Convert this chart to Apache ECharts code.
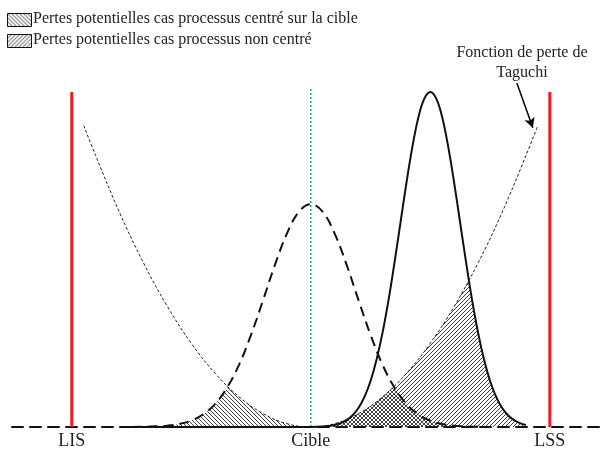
<!DOCTYPE html>
<html>
<head>
<meta charset="utf-8">
<script src="https://cdn.jsdelivr.net/npm/echarts@6/dist/echarts.min.js"></script>
<style>html,body{margin:0;padding:0;background:#fff}#c{width:606px;height:450px}</style>
</head>
<body>
<div id="c"></div>
<script>
// ---- data (x: Cible = 0, LIS = -1, LSS = +1 ; y: loss / density height) ----
const tickPositions = [-1, 0, 1];
const tickLabels = ['LIS', 'Cible', 'LSS'];
const legendLabels = ['Pertes potentielles cas processus centré sur la cible',
                      'Pertes potentielles cas processus non centré'];
const annotation = ['Fonction de perte de', 'Taguchi'];

// Taguchi loss function (parabola)
const taguchiX = [-0.95,-0.9,-0.8,-0.7,-0.6,-0.5,-0.4,-0.3,-0.2,-0.1,0,0.1,0.2,0.3,0.4,0.5,0.6,0.7,0.8,0.9,0.95];
const taguchiY = [0.90,0.81,0.64,0.49,0.36,0.25,0.16,0.09,0.04,0.01,0,0.01,0.04,0.09,0.16,0.25,0.36,0.49,0.64,0.81,0.90];

// centred process distribution (dashed)
const centredX = [-0.75,-0.7,-0.65,-0.6,-0.55,-0.5,-0.45,-0.4,-0.35,-0.3,-0.25,-0.2,-0.15,-0.1,-0.05,0,0.05,0.1,0.15,0.2,0.25,0.3,0.35,0.4,0.45,0.5,0.55,0.6,0.65,0.7,0.75];
const centredY = [0,0.0006,0.002,0.004,0.009,0.019,0.038,0.069,0.118,0.186,0.275,0.378,0.484,0.577,0.642,0.665,0.642,0.577,0.484,0.378,0.275,0.186,0.118,0.069,0.038,0.019,0.009,0.004,0.002,0.0006,0];

// non-centred process distribution (solid)
const shiftedX = [-0.75,0,0.05,0.1,0.125,0.15,0.175,0.2,0.225,0.25,0.275,0.3,0.325,0.35,0.375,0.4,0.425,0.45,0.475,0.5,0.525,0.55,0.575,0.6,0.625,0.65,0.675,0.7,0.725,0.75,0.775,0.8,0.825,0.85,0.875,0.9];
const shiftedY = [0,0.0003,0.0016,0.0062,0.0115,0.0205,0.035,0.0574,0.0907,0.1375,0.2005,0.281,0.378,0.49,0.609,0.728,0.836,0.924,0.98,1.0,0.98,0.924,0.836,0.728,0.609,0.49,0.378,0.281,0.2005,0.1375,0.0907,0.0574,0.035,0.0205,0.0115,0.0062];

// hatched loss zones (min of loss and distribution)
const lossCentredMidX = [-0.348,-0.3,-0.25,-0.2,-0.15,-0.1,-0.05,0,0.05,0.1,0.15,0.2,0.25,0.3,0.348];
const lossCentredMidY = [0.121,0.09,0.0625,0.04,0.0225,0.01,0.0025,0,0.0025,0.01,0.0225,0.04,0.0625,0.09,0.121];
const lossCentredTailX = [0.348,0.375,0.4,0.425,0.45,0.5,0.55,0.6,0.65,0.7,0.75];
const lossCentredTailY = [0.121,0.091,0.069,0.0517,0.038,0.019,0.009,0.004,0.0017,0.0006,0];
const lossShiftedMidX = [0,0.05,0.1,0.15,0.2,0.25,0.3,0.35,0.4,0.45,0.5,0.55,0.6,0.662];
const lossShiftedMidY = [0,0.0025,0.01,0.0225,0.04,0.0625,0.09,0.1225,0.16,0.2025,0.25,0.3025,0.36,0.437];
const lossShiftedTailX = [0.662,0.675,0.7,0.725,0.75,0.775,0.8,0.825,0.85,0.875,0.9];
const lossShiftedTailY = [0.437,0.378,0.281,0.2005,0.1375,0.0907,0.0574,0.035,0.0205,0.0115,0.0062];

const specLimitX = [-1, 1];
const specLimitTop = 1.0;
const targetTop = 1.015;
const arrowFrom = [0.862, 1.027];
const arrowTo = [0.929, 0.893];

// ---- helpers ----
const zip = (xs, ys) => xs.map((x, i) => [x, ys[i]]);
function hatch(dir) {
  const s = 4, c = document.createElement('canvas');
  c.width = s; c.height = s;
  const g = c.getContext('2d');
  g.strokeStyle = '#2a2a2a'; g.lineWidth = 0.9;
  g.beginPath();
  if (dir === '/') {
    g.moveTo(-1, s + 1); g.lineTo(s + 1, -1);
    g.moveTo(-1, 1); g.lineTo(1, -1);
    g.moveTo(s - 1, s + 1); g.lineTo(s + 1, s - 1);
  } else {
    g.moveTo(-1, -1); g.lineTo(s + 1, s + 1);
    g.moveTo(s - 1, -1); g.lineTo(s + 1, 1);
    g.moveTo(-1, s - 1); g.lineTo(1, s + 1);
  }
  g.stroke();
  return { image: c, repeat: 'repeat' };
}
const patBack = hatch('\\');
const patFwd = hatch('/');
const FONT = 'Liberation Serif, Times New Roman, serif';

function areaSeries(name, xs, ys, pat) {
  return { name, type: 'line', data: zip(xs, ys), smooth: 0.35, symbol: 'none',
    lineStyle: { width: 0 }, areaStyle: { color: pat, opacity: 1 }, z: 1, silent: true };
}

const chart = echarts.init(document.getElementById('c'), null, { renderer: 'canvas' });
chart.setOption({
  animation: false,
  backgroundColor: '#fff',
  grid: { left: 12, right: 0, top: 58.5, bottom: 23 },
  xAxis: {
    type: 'value', min: -1.25, max: 1.235,
    axisLine: { show: true, onZero: false, lineStyle: { color: '#111', width: 2, type: [11, 7] } },
    axisTick: { show: false }, splitLine: { show: false },
    axisLabel: { customValues: tickPositions, formatter: v => tickLabels[tickPositions.indexOf(v)],
      fontFamily: FONT, fontSize: 18, color: '#222', margin: 5 }
  },
  yAxis: { type: 'value', min: 0, max: 1.1, show: false },
  series: [
    areaSeries('ns1', lossShiftedMidX, lossShiftedMidY, patFwd),
    areaSeries('ns2', lossShiftedTailX, lossShiftedTailY, patFwd),
    areaSeries('c1', lossCentredMidX, lossCentredMidY, patBack),
    areaSeries('c2', lossCentredTailX, lossCentredTailY, patBack),
    areaSeries('c3', lossCentredTailX.map(v => -v), lossCentredTailY, patBack),
    { name: 'taguchi', type: 'line', data: zip(taguchiX, taguchiY), smooth: 0.4, symbol: 'none', z: 3,
      lineStyle: { color: '#222', width: 1, type: [3, 2] },
      markLine: { silent: true, symbol: ['none', 'arrow'], symbolSize: [8, 10],
        lineStyle: { color: '#000', width: 1.5, type: 'solid' }, label: { show: false },
        data: [[{ coord: arrowFrom }, { coord: arrowTo }]] } },
    { name: 'centred', type: 'line', data: zip(centredX, centredY), smooth: 0.4, symbol: 'none', z: 4,
      lineStyle: { color: '#111', width: 2, type: [10, 6] } },
    { name: 'shifted', type: 'line', data: zip(shiftedX, shiftedY), smooth: 0.4, symbol: 'none', z: 4,
      lineStyle: { color: '#111', width: 2 } },
    { name: 'LIS', type: 'line', data: [[specLimitX[0], 0], [specLimitX[0], specLimitTop]], symbol: 'none', z: 5,
      lineStyle: { color: '#ee1c25', width: 3 } },
    { name: 'LSS', type: 'line', data: [[specLimitX[1], 0], [specLimitX[1], specLimitTop]], symbol: 'none', z: 5,
      lineStyle: { color: '#ee1c25', width: 3 } },
    { name: 'cible', type: 'line', data: [[0, 0], [0, targetTop]], symbol: 'none', z: 2,
      lineStyle: { color: '#2a9d6f', width: 1.5, type: [2, 2] } }
  ],
  graphic: [
    { type: 'rect', left: 7, top: 13, shape: { width: 24, height: 13 }, style: { fill: patBack, stroke: '#111', lineWidth: 1 } },
    { type: 'text', left: 33, top: 11, style: { text: legendLabels[0], font: '16px ' + FONT, fill: '#222' } },
    { type: 'text', left: 33, top: 32, style: { text: legendLabels[1], font: '16px ' + FONT, fill: '#222' } },
    { type: 'rect', left: 7, top: 34, shape: { width: 24, height: 13 }, style: { fill: patFwd, stroke: '#111', lineWidth: 1 } },
    { type: 'text', x: 522, y: 45, style: { text: annotation[0], font: '16px ' + FONT, fill: '#222', align: 'center' } },
    { type: 'text', x: 522, y: 65, style: { text: annotation[1], font: '16px ' + FONT, fill: '#222', align: 'center' } }
  ]
});
</script>
</body>
</html>
